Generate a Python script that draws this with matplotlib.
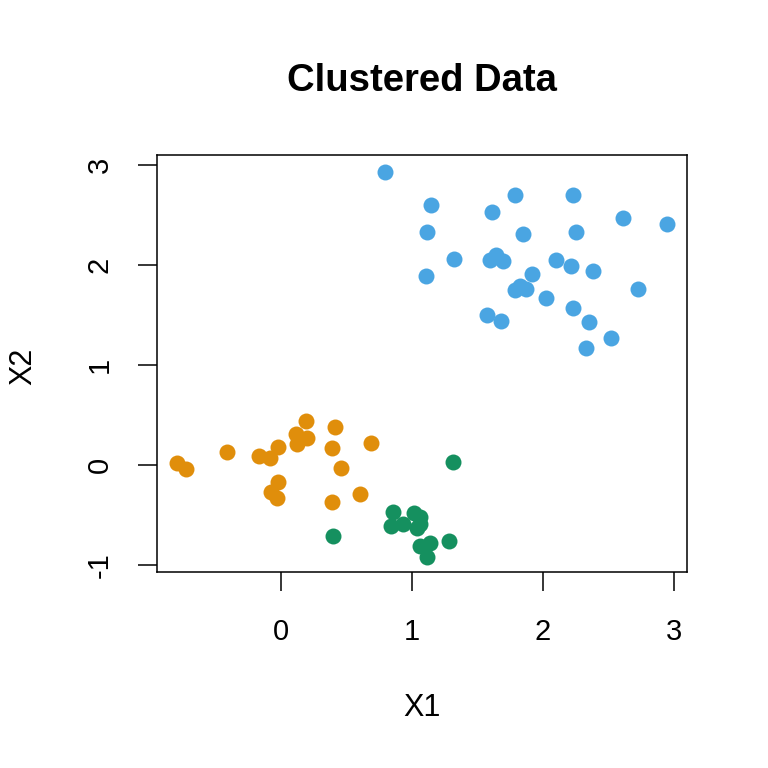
import matplotlib
matplotlib.use("Agg")
import matplotlib.pyplot as plt
import numpy as np

plt.rcParams['font.family'] = ['Liberation Sans', 'DejaVu Sans']
plt.rcParams['axes.unicode_minus'] = False

# cluster 1 (orange)
x_orange = [-0.796, -0.728, -0.415, -0.168, -0.084, -0.025, 0.112, 0.120, 0.196, 0.191,
            0.412, 0.394, 0.456, 0.687, -0.020, -0.079, -0.033, 0.394, 0.608]
y_orange = [0.017, -0.043, 0.133, 0.093, 0.067, 0.177, 0.310, 0.210, 0.267, 0.443,
            0.383, 0.167, -0.033, 0.223, -0.167, -0.273, -0.327, -0.367, -0.293]

# cluster 2 (green)
x_green = [1.315, 0.399, 0.857, 0.845, 0.934, 1.018, 1.061, 1.066, 1.036, 1.066,
           1.137, 1.120, 1.282]
y_green = [0.033, -0.707, -0.473, -0.607, -0.593, -0.477, -0.517, -0.590, -0.633, -0.807,
           -0.783, -0.914, -0.757]

# cluster 3 (blue)
x_blue = [0.794, 1.145, 1.120, 1.112, 1.321, 1.611, 1.786, 1.595, 1.641, 1.697,
          1.850, 1.918, 1.786, 1.824, 1.875, 2.023, 1.575, 1.685, 2.104, 2.219,
          2.232, 2.257, 2.385, 2.232, 2.354, 2.333, 2.522, 2.614, 2.952, 2.725]
y_blue = [2.930, 2.600, 2.323, 1.890, 2.057, 2.523, 2.697, 2.050, 2.100, 2.040,
          2.303, 1.907, 1.750, 1.790, 1.757, 1.663, 1.497, 1.440, 2.050, 1.983,
          2.697, 2.323, 1.940, 1.567, 1.430, 1.167, 1.267, 2.467, 2.410, 1.757]

col_orange = "#E08E0B"
col_green = "#15905F"
col_blue = "#4AA5E2"

fig = plt.figure(figsize=(7.68, 7.68), dpi=100)
ax = fig.add_axes([157/768, 1-572/768, 530/768, 417/768])

for xs, ys, c in [(x_orange, y_orange, col_orange),
                  (x_green, y_green, col_green),
                  (x_blue, y_blue, col_blue)]:
    ax.plot(xs, ys, 'o', color=c, ms=11.5, mec='none')

# R style 4% padding
all_x = np.array(x_orange + x_green + x_blue)
all_y = np.array(y_orange + y_green + y_blue)
rx = all_x.max() - all_x.min()
ry = all_y.max() - all_y.min()
ax.set_xlim(all_x.min() - 0.04*rx, all_x.max() + 0.04*rx)
ax.set_ylim(-1.068, 3.095)

ax.set_xticks([0, 1, 2, 3])
ax.set_yticks([-1, 0, 1, 2, 3])
for s in ax.spines.values():
    s.set_linewidth(1.1)
ax.tick_params(direction='out', length=14, width=1.1, labelsize=21)
ax.tick_params(axis='x', pad=19)
ax.tick_params(axis='y', labelrotation=90, pad=17)
for lab in ax.get_yticklabels():
    lab.set_va('center')

fig.text(422/768, 1-708/768, "X1", ha='center', va='center', fontsize=22)
fig.text(23.5/768, 1-366/768, "X2", ha='center', va='center', fontsize=22, rotation=90)
fig.text(422/768, 1-81/768, "Clustered Data", ha='center', va='center',
         fontsize=27.5, fontweight='bold')

fig.savefig("out.png", dpi=100)
